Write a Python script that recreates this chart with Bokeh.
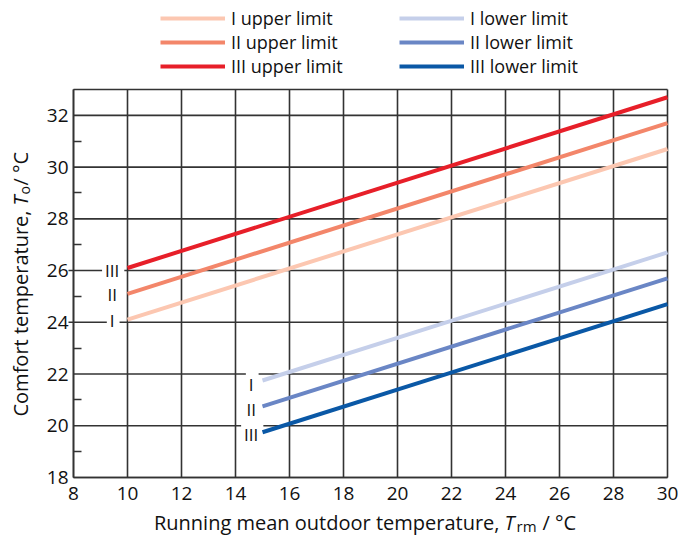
import math
from bokeh.plotting import figure
from bokeh.models import FixedTicker, Legend, LegendItem, Label, Range1d
from bokeh.core.properties import value
from bokeh.embed import file_html
from bokeh.resources import INLINE

# ---- data ----
upper_x = [10, 30]
upper_I = [24.1, 30.7]
upper_II = [25.1, 31.7]
upper_III = [26.1, 32.7]
lower_x = [15, 30]
lower_I = [21.75, 26.7]
lower_II = [20.75, 25.7]
lower_III = [19.75, 24.7]

x_ticks = [8, 10, 12, 14, 16, 18, 20, 22, 24, 26, 28, 30]
y_ticks = [18, 20, 22, 24, 26, 28, 30, 32]
y_minor = [19, 21, 23, 25, 27, 29, 31]
x_lim = (8, 30)
y_lim = (18, 33)
stub_y = [24, 26]

upper_lab_text = ["III", "II", "I"]
upper_lab_x = [9.47, 9.47, 9.47]
upper_lab_y = [25.95, 25.02, 24.05]
lower_lab_text = ["I", "II", "III"]
lower_lab_x = [14.62, 14.62, 14.62]
lower_lab_y = [21.55, 20.6, 19.62]

names = ["I upper limit", "II upper limit", "III upper limit",
         "I lower limit", "II lower limit", "III lower limit"]
colors = ["#fcc7b1", "#f3866a", "#e71f29", "#c5cfea", "#6a86c5", "#0a58a6"]

FONT = "Open Sans"
GRID = "#333333"
TXT = "#111111"

# ---- layout (pixels) ----
W, H = 678, 535
FL, FR, FT, FB = 73, 667, 89, 477   # plot box in canvas pixels
sx = (FR - FL) / (x_lim[1] - x_lim[0])
sy = (FB - FT) / (y_lim[1] - y_lim[0])
xr = Range1d(x_lim[0] - FL / sx, x_lim[0] + (W - FL) / sx)
yr = Range1d(y_lim[0] - (H - FB) / sy, y_lim[0] + FB / sy)

p = figure(width=W, height=H, x_range=xr, y_range=yr,
           output_backend="svg", toolbar_location=None, min_border=0)
p.background_fill_color = "white"
p.border_fill_color = "white"
p.outline_line_color = None
p.grid.visible = False

p.xaxis.ticker = FixedTicker(ticks=x_ticks, minor_ticks=[])
p.yaxis.ticker = FixedTicker(ticks=y_ticks, minor_ticks=y_minor)
p.xaxis.fixed_location = y_lim[0]
p.yaxis.fixed_location = x_lim[0]
p.xaxis.bounds = x_lim
p.yaxis.bounds = y_lim
for ax in (p.xaxis, p.yaxis):
    ax.axis_line_color = GRID
    ax.axis_line_width = 1.6
    ax.major_tick_in = 0
    ax.major_tick_out = 0
    ax.major_label_text_font = FONT
    ax.major_label_text_font_size = "19px"
    ax.major_label_text_color = TXT
p.xaxis.minor_tick_line_color = None
p.xaxis.major_label_standoff = 9
p.yaxis.major_label_standoff = 5
p.yaxis.minor_tick_in = 8
p.yaxis.minor_tick_out = 0
p.yaxis.minor_tick_line_color = GRID
p.yaxis.minor_tick_line_width = 1.6

# grid lines limited to the plot box (drawn from the tick arrays)
n_x = len(x_ticks)
p.segment(x0=x_ticks, y0=[y_lim[0]] * n_x, x1=x_ticks, y1=[y_lim[1]] * n_x,
          line_color=GRID, line_width=1.6)
hy = y_ticks + [y_lim[1]]
p.segment(x0=[x_lim[0]] * len(hy), y0=hy, x1=[x_lim[1]] * len(hy), y1=hy,
          line_color=GRID, line_width=1.6)
# short leader stubs left of the axis at 24 and 26
p.segment(x0=[x_lim[0] - 5 / sx] * 2, y0=stub_y, x1=[x_lim[0]] * 2, y1=stub_y,
          line_color=GRID, line_width=1.6)

# class labels on white boxes that interrupt the grid
for tx, xx, yy in ((upper_lab_text, upper_lab_x, upper_lab_y),
                   (lower_lab_text, lower_lab_x, lower_lab_y)):
    p.text(x=xx, y=yy, text=tx, text_font=value(FONT), text_font_size="17px",
           text_align="center", text_baseline="middle", text_color=TXT,
           background_fill_color="white", padding=[3, 5, 3, 5])

series = [(upper_x, upper_I), (upper_x, upper_II), (upper_x, upper_III),
          (lower_x, lower_I), (lower_x, lower_II), (lower_x, lower_III)]
rs = []
for (xs, ys), c in zip(series, colors):
    rs.append(p.line(xs, ys, line_color=c, line_width=4))

common = dict(orientation="vertical", label_text_font=FONT,
              label_text_font_size="18px", label_text_color=TXT,
              glyph_width=65, glyph_height=24, label_height=24, spacing=0,
              padding=0, margin=0, border_line_color=None,
              background_fill_alpha=0, label_standoff=6)
leg1 = Legend(items=[LegendItem(label=names[i], renderers=[rs[i]]) for i in range(3)],
              location=(160, 457), **common)
leg2 = Legend(items=[LegendItem(label=names[i], renderers=[rs[i]]) for i in range(3, 6)],
              location=(399, 457), **common)
p.add_layout(leg1)
p.add_layout(leg2)

def lab(x, y, text, size="20px", style="normal", align="left", angle=0.0, baseline="alphabetic"):
    p.add_layout(Label(x=x, y=y, x_units="screen", y_units="screen", angle=angle,
                       text=text, text_align=align, text_baseline=baseline,
                       text_font=FONT, text_font_size=size, text_font_style=style,
                       text_color=TXT))

# x axis title (canvas y measured from bottom)
xb = H - 522
lab(499, xb, "Running mean outdoor temperature,", align="right")
lab(504, xb, "T", style="italic")
lab(516, xb - 3, "rm", size="15px")
lab(542, xb, "/ °C")

# y axis title (rotated)
a = math.pi / 2
yx = 20
lab(yx, H - 210, "Comfort temperature,", align="right", angle=a, baseline="middle")
lab(yx, H - 205, "T", style="italic", angle=a, baseline="middle")
lab(yx + 4, H - 194, "o", size="14px", angle=a, baseline="middle")
lab(yx, H - 185, "/ °C", angle=a, baseline="middle")

open("out.html", "w").write(file_html(p, INLINE))
